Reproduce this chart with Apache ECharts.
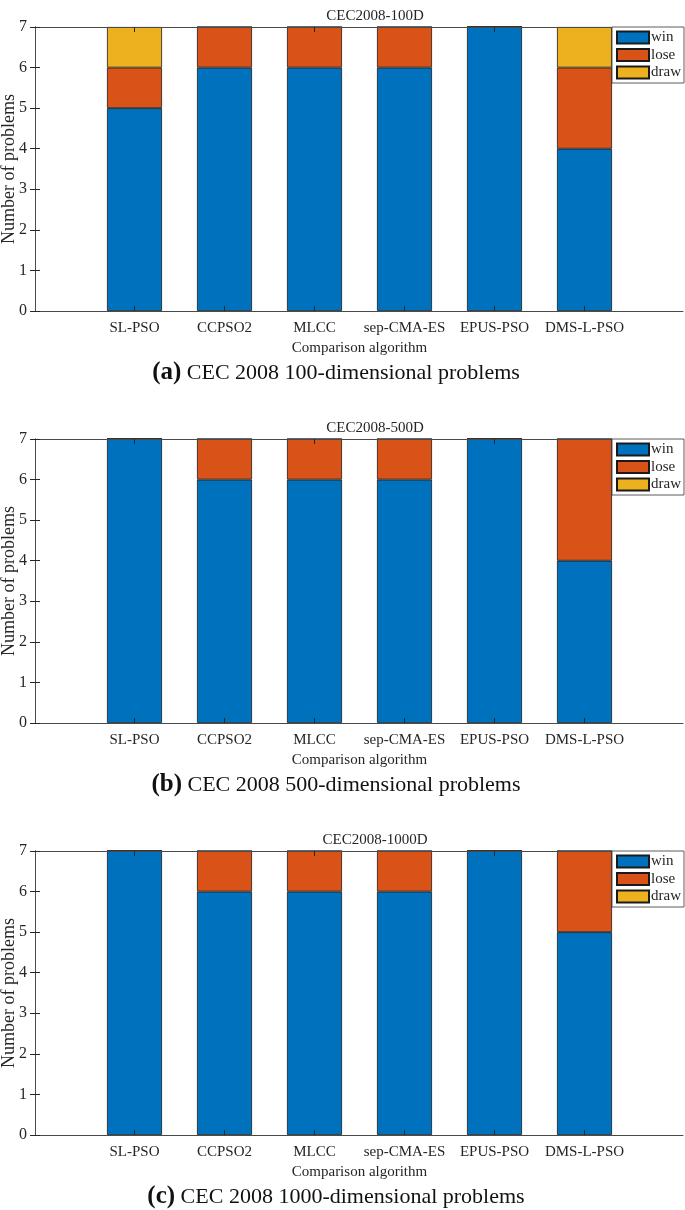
<!DOCTYPE html>
<html>
<head>
<meta charset="utf-8">
<script src="https://cdn.jsdelivr.net/npm/echarts@6/dist/echarts.min.js"></script>
<style>
html,body{margin:0;padding:0;background:#fff;}
#c{width:685px;height:1210px;}
</style>
</head>
<body>
<div id="c"></div>
<script>
// ---- data ----
const categories = ['SL-PSO', 'CCPSO2', 'MLCC', 'sep-CMA-ES', 'EPUS-PSO', 'DMS-L-PSO'];
const seriesNames = ['win', 'lose', 'draw'];
const yTicks = [0, 1, 2, 3, 4, 5, 6, 7];

const chartTitles = ['CEC2008-100D', 'CEC2008-500D', 'CEC2008-1000D'];
const captionTags = ['(a)', '(b)', '(c)'];
const captionTexts = ['CEC 2008 100-dimensional problems', 'CEC 2008 500-dimensional problems', 'CEC 2008 1000-dimensional problems'];

const win100 = [5, 6, 6, 6, 7, 4];
const lose100 = [1, 1, 1, 1, 0, 2];
const draw100 = [1, 0, 0, 0, 0, 1];

const win500 = [7, 6, 6, 6, 7, 4];
const lose500 = [0, 1, 1, 1, 0, 3];
const draw500 = [0, 0, 0, 0, 0, 0];

const win1000 = [7, 6, 6, 6, 7, 5];
const lose1000 = [0, 1, 1, 1, 0, 2];
const draw1000 = [0, 0, 0, 0, 0, 0];

const panels = [
  [win100, lose100, draw100],
  [win500, lose500, draw500],
  [win1000, lose1000, draw1000]
];

// ---- styling / layout ----
const colors = ['#0072BD', '#D95319', '#EDB120'];
const FONT = 'Liberation Serif';
const INK = '#262626';
const AX = '#4a4a4a';
const frameLeft = 35, frameRight = 683, plotH = 284;
const barLeft = 89.5, barWidthArea = 540;
const tops = [27, 439, 851];
const yMin = yTicks[0], yMax = yTicks[yTicks.length - 1];

const option = {
  animation: false,
  backgroundColor: '#fff',
  title: [], grid: [], xAxis: [], yAxis: [], series: [], legend: [], graphic: []
};

panels.forEach((vals, p) => {
  const top = tops[p];
  const gFrame = p * 2, gBar = p * 2 + 1;
  option.grid.push({left: frameLeft, width: frameRight - frameLeft, top: top, height: plotH,
    containLabel: false, outerBoundsMode: 'none'});
  option.grid.push({left: barLeft, width: barWidthArea, top: top, height: plotH,
    containLabel: false, outerBoundsMode: 'none'});

  option.title.push({
    text: chartTitles[p], left: 370, top: top - 23, textAlign: 'center',
    textStyle: {fontFamily: FONT, fontSize: 15, fontWeight: 'normal', color: INK}
  });

  ['bottom', 'top'].forEach(pos => option.xAxis.push({
    type: 'value', gridIndex: gFrame, min: 0, max: 1, position: pos, z: 10,
    axisLine: {show: true, onZero: false, lineStyle: {color: AX, width: 1}},
    axisTick: {show: false}, axisLabel: {show: false}, splitLine: {show: false}
  }));
  option.yAxis.push({
    type: 'value', gridIndex: gFrame, min: yMin, max: yMax, interval: 1, position: 'left', z: 10,
    name: 'Number of problems', nameLocation: 'middle', nameGap: 17, nameMoveOverlap: false,
    nameTextStyle: {fontFamily: FONT, fontSize: 18, color: INK},
    axisLine: {show: true, lineStyle: {color: AX, width: 1}},
    axisTick: {show: true, inside: true, length: 5, lineStyle: {color: INK}},
    axisLabel: {show: true, margin: 8, fontFamily: FONT, fontSize: 16, color: INK},
    splitLine: {show: false}
  });
  option.yAxis.push({
    type: 'value', gridIndex: gFrame, min: yMin, max: yMax, interval: 1, position: 'right', z: 10,
    axisLine: {show: true, lineStyle: {color: AX, width: 1}},
    axisTick: {show: true, inside: true, length: 5, lineStyle: {color: INK}},
    axisLabel: {show: false}, splitLine: {show: false}
  });

  const barX = option.xAxis.length;
  option.xAxis.push({
    type: 'category', gridIndex: gBar, data: categories, position: 'bottom', z: 10, boundaryGap: true,
    name: 'Comparison algorithm', nameLocation: 'middle', nameGap: 30, nameMoveOverlap: false,
    nameTextStyle: {fontFamily: FONT, fontSize: 15, color: INK},
    axisLine: {show: false},
    axisTick: {show: true, inside: true, alignWithLabel: true, length: 5, lineStyle: {color: INK}},
    axisLabel: {show: true, margin: 10, interval: 0, fontFamily: FONT, fontSize: 15, color: INK},
    splitLine: {show: false}
  });
  option.xAxis.push({
    type: 'category', gridIndex: gBar, data: categories, position: 'top', z: 10, boundaryGap: true,
    axisLine: {show: false},
    axisTick: {show: true, inside: true, alignWithLabel: true, length: 5, lineStyle: {color: INK}},
    axisLabel: {show: false}, splitLine: {show: false}
  });
  const barY = option.yAxis.length;
  option.yAxis.push({
    type: 'value', gridIndex: gBar, min: yMin, max: yMax, interval: 1, show: false
  });

  vals.forEach((arr, s) => {
    option.series.push({
      type: 'bar', name: seriesNames[s], xAxisIndex: barX, yAxisIndex: barY,
      stack: 'st' + p, barWidth: 55,
      itemStyle: {color: colors[s], borderColor: '#1a1a1a', borderWidth: 0.8},
      data: arr.slice()
    });
  });

  option.legend.push({
    data: seriesNames.map(n => ({name: n, icon: 'rect'})), orient: 'vertical', left: 612, top: top,
    itemWidth: 32, itemHeight: 12, itemGap: 2.5,
    padding: [3, 3, 3, 4],
    backgroundColor: '#fff', borderColor: '#333', borderWidth: 0.8, z: 20,
    textStyle: {fontFamily: FONT, fontSize: 15, color: INK, padding: [0, 0, 0, -3]},
    selectedMode: false
  });
  option.graphic.push({
    type: 'text', x: 336, y: top + plotH + 62,
    style: {
      text: '{b|' + captionTags[p] + '} ' + captionTexts[p],
      rich: {b: {fontFamily: FONT, fontSize: 25, fontWeight: 'bold', fill: '#111'}},
      fontFamily: FONT, fontSize: 22, fill: '#111', align: 'center', verticalAlign: 'middle'
    }
  });
});

const chart = echarts.init(document.getElementById('c'), null, {renderer: 'canvas'});
chart.setOption(option);
</script>
</body>
</html>
